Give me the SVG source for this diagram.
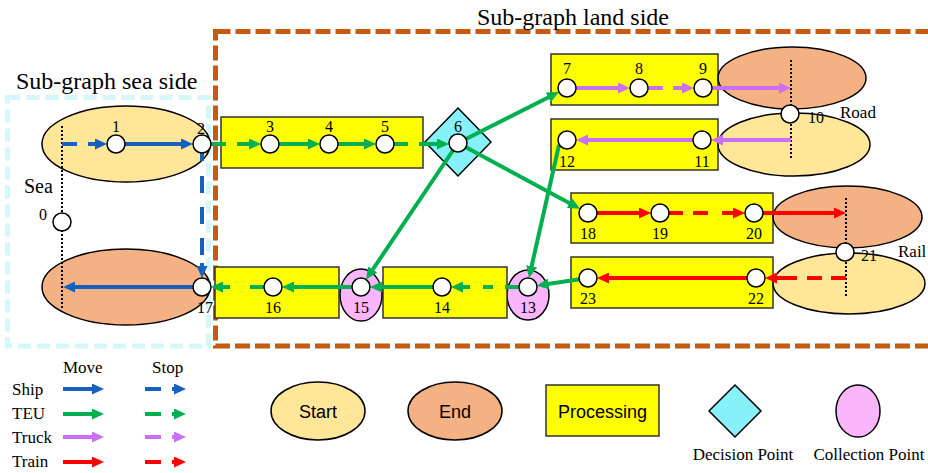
<svg xmlns="http://www.w3.org/2000/svg" width="928" height="473" viewBox="0 0 928 473">
<style>
.t{font-family:"Liberation Serif","Times New Roman",serif;fill:#000}
.n{font-size:16px;text-anchor:middle}
.big{font-size:24px}
.sm{font-size:17px}
.sans{font-family:"Liberation Sans",Arial,sans-serif;font-size:18px;text-anchor:middle;fill:#000}
.st{fill:#ffe699;stroke:#000;stroke-width:1.5}
.en{fill:#f4b183;stroke:#000;stroke-width:1.5}
.pr{fill:#ffff00;stroke:#333;stroke-width:1.5}
.dc{fill:#86f1f9;stroke:#000;stroke-width:1.5}
.co{fill:#fbb5fb;stroke:#000;stroke-width:1.5}
.pt{fill:#fff;stroke:#000;stroke-width:1.5}
.dot{stroke:#000;stroke-width:2;stroke-dasharray:2 2;fill:none}
.c{fill:none;stroke-width:4}
.b{stroke:#1660be;marker-end:url(#ab)}
.g{stroke:#00b050;marker-end:url(#ag)}
.p{stroke:#cc6ff7;marker-end:url(#ap)}
.r{stroke:#ff0000;marker-end:url(#ar)}
</style>
<defs>
<marker id="ab" markerUnits="userSpaceOnUse" markerWidth="12" markerHeight="11" refX="6" refY="5.5" orient="auto"><path d="M0,0L12,5.5L0,11z" fill="#1660be"/></marker>
<marker id="ag" markerUnits="userSpaceOnUse" markerWidth="12" markerHeight="11" refX="6" refY="5.5" orient="auto"><path d="M0,0L12,5.5L0,11z" fill="#00b050"/></marker>
<marker id="ap" markerUnits="userSpaceOnUse" markerWidth="12" markerHeight="11" refX="6" refY="5.5" orient="auto"><path d="M0,0L12,5.5L0,11z" fill="#cc6ff7"/></marker>
<marker id="ar" markerUnits="userSpaceOnUse" markerWidth="12" markerHeight="11" refX="6" refY="5.5" orient="auto"><path d="M0,0L12,5.5L0,11z" fill="#ff0000"/></marker>
</defs>
<rect width="928" height="473" fill="#fff"/>

<g id="subgraph-sea">
<rect x="7.5" y="97.5" width="201" height="248.5" fill="none" stroke="#d5f7fa" stroke-width="5" stroke-dasharray="13 6"/>
<text class="t big" x="16" y="89">Sub-graph sea side</text>
</g>
<g id="subgraph-land">
<rect x="215.5" y="31.5" width="730" height="314.5" fill="none" stroke="#c55a11" stroke-width="5" stroke-dasharray="15 5"/>
<text class="t big" x="477" y="25">Sub-graph land side</text>
</g>

<g id="sea-start"><ellipse class="st" cx="126" cy="144" rx="84" ry="38"/></g>
<g id="sea-end"><ellipse class="en" cx="126" cy="287" rx="84" ry="38"/></g>
<g id="sea-axis"><line class="dot" x1="62" y1="126" x2="62" y2="308"/><text class="t" x="24" y="193" font-size="20">Sea</text></g>
<g id="proc-3-5"><rect class="pr" x="221" y="117" width="202" height="51"/></g>
<g id="decision-6"><polygon class="dc" points="458,108 491,142 458,176 425,142"/></g>
<g id="proc-7-9"><rect class="pr" x="551" y="54" width="167" height="51"/></g>
<g id="proc-11-12"><rect class="pr" x="551" y="119" width="167" height="51"/></g>
<g id="road-end"><ellipse class="en" cx="792" cy="78" rx="74" ry="31"/></g>
<g id="road-start"><ellipse class="st" cx="794" cy="144.5" rx="76" ry="31.5"/></g>
<g id="road-axis"><line class="dot" x1="791" y1="60" x2="791" y2="160"/><text class="t sm" x="840" y="118">Road</text></g>
<g id="proc-18-20"><rect class="pr" x="571" y="193" width="202" height="50"/></g>
<g id="proc-22-23"><rect class="pr" x="571" y="257" width="202" height="51"/></g>
<g id="rail-end"><ellipse class="en" cx="847.5" cy="217" rx="74.5" ry="31"/></g>
<g id="rail-start"><ellipse class="st" cx="849" cy="283.5" rx="76" ry="30.5"/></g>
<g id="rail-axis"><line class="dot" x1="846" y1="198" x2="846" y2="297"/><text class="t sm" x="898" y="257">Rail</text></g>
<g id="collect-13"><ellipse class="co" cx="528" cy="295" rx="21" ry="25"/></g>
<g id="proc-14"><rect class="pr" x="383" y="267" width="124" height="51"/></g>
<g id="collect-15"><ellipse class="co" cx="361" cy="295" rx="21" ry="26"/></g>
<g id="proc-16"><rect class="pr" x="215" y="267" width="124" height="51"/></g>

<g id="connectors">
<path class="c b" d="M62,144H77M88,144H101"/>
<path class="c b" d="M125,144H187"/>
<path class="c b" d="M202,153V161M202,176V193M202,207V224M202,238V255M202,263V272"/>
<path class="c b" d="M193,287H69"/>
<path class="c g" d="M211,144H226M237,144H255"/>
<path class="c g" d="M279,144H314"/>
<path class="c g" d="M338,144H370"/>
<path class="c g" d="M394,144H408M419,144H443"/>
<path class="c g" d="M458,143L553.6,94.7"/>
<path class="c g" d="M458,143L574.8,205.9"/>
<path class="c g" d="M458,143L369.4,274.5"/>
<path class="c g" d="M559,145L530.3,272.1"/>
<path class="c g" d="M588,278L542.8,284.8"/>
<path class="c g" d="M519,287H505M493,287H483M470,287H457"/>
<path class="c g" d="M433,287H376"/>
<path class="c g" d="M352,287H288"/>
<path class="c g" d="M264,287H250M230,287H217"/>
<path class="c p" d="M576,88H624"/>
<path class="c p" d="M648,88H663M673,88H688"/>
<path class="c p" d="M712,88H785"/>
<path class="c p" d="M791,140H717"/>
<path class="c p" d="M693,140H582"/>
<path class="c r" d="M597,213H645"/>
<path class="c r" d="M669,213H683M693,213H708M722,213H739"/>
<path class="c r" d="M763,213H840"/>
<path class="c r" d="M846,278H831M822,278H807M797,278H771"/>
<path class="c r" d="M747,278H603"/>
</g>

<g id="n0"><circle class="pt" cx="62" cy="222" r="9"/><text class="t n" x="43" y="220">0</text></g>
<g id="n1"><text class="t n" x="116" y="132">1</text><circle class="pt" cx="116" cy="144" r="9"/></g>
<g id="n2"><text class="t n" x="201" y="134">2</text><circle class="pt" cx="202" cy="144" r="9"/></g>
<g id="n3"><text class="t n" x="270" y="132">3</text><circle class="pt" cx="270" cy="144" r="9"/></g>
<g id="n4"><text class="t n" x="329" y="132">4</text><circle class="pt" cx="329" cy="144" r="9"/></g>
<g id="n5"><text class="t n" x="385" y="132">5</text><circle class="pt" cx="385" cy="144" r="9"/></g>
<g id="n6"><text class="t n" x="458" y="132">6</text><circle class="pt" cx="458" cy="143" r="9"/></g>
<g id="n7"><text class="t n" x="567" y="74">7</text><circle class="pt" cx="567" cy="88" r="9"/></g>
<g id="n8"><text class="t n" x="639" y="74">8</text><circle class="pt" cx="639" cy="88" r="9"/></g>
<g id="n9"><text class="t n" x="703" y="74">9</text><circle class="pt" cx="703" cy="88" r="9"/></g>
<g id="n10"><circle class="pt" cx="790" cy="114" r="9"/><text class="t n" x="816" y="123">10</text></g>
<g id="n11"><circle class="pt" cx="702" cy="140" r="9"/><text class="t n" x="702" y="167">11</text></g>
<g id="n12"><circle class="pt" cx="567" cy="140" r="9"/><text class="t n" x="567" y="167">12</text></g>
<g id="n13"><circle class="pt" cx="528" cy="287" r="9"/><text class="t n" x="528" y="313">13</text></g>
<g id="n14"><circle class="pt" cx="442" cy="287" r="9"/><text class="t n" x="442" y="313">14</text></g>
<g id="n15"><circle class="pt" cx="361" cy="287" r="9"/><text class="t n" x="361" y="313">15</text></g>
<g id="n16"><circle class="pt" cx="273" cy="287" r="9"/><text class="t n" x="273" y="313">16</text></g>
<g id="n17"><circle class="pt" cx="202" cy="287" r="9"/><text class="t n" x="205" y="313">17</text></g>
<g id="n18"><circle class="pt" cx="588" cy="213" r="9"/><text class="t n" x="588" y="239">18</text></g>
<g id="n19"><circle class="pt" cx="660" cy="213" r="9"/><text class="t n" x="660" y="239">19</text></g>
<g id="n20"><circle class="pt" cx="754" cy="213" r="9"/><text class="t n" x="754" y="239">20</text></g>
<g id="n21"><circle class="pt" cx="845" cy="252" r="9"/><text class="t n" x="869" y="261">21</text></g>
<g id="n22"><circle class="pt" cx="756" cy="278" r="9"/><text class="t n" x="756" y="304">22</text></g>
<g id="n23"><circle class="pt" cx="588" cy="278" r="9"/><text class="t n" x="588" y="304">23</text></g>

<g id="legend-modes">
<text class="t sm" x="63" y="373">Move</text>
<text class="t sm" x="152" y="373">Stop</text>
<text class="t sm" x="12" y="395">Ship</text>
<text class="t sm" x="12" y="419">TEU</text>
<text class="t sm" x="12" y="443">Truck</text>
<text class="t sm" x="12" y="467">Train</text>
<path class="c b" d="M63,389H98"/><path class="c b" d="M145,389H161M172,389H180"/>
<path class="c g" d="M63,414H98"/><path class="c g" d="M145,414H161M172,414H180"/>
<path class="c p" d="M63,437H98"/><path class="c p" d="M145,437H161M172,437H180"/>
<path class="c r" d="M63,462H98"/><path class="c r" d="M145,462H161M172,462H180"/>
</g>
<g id="legend-start"><ellipse class="st" cx="318" cy="411" rx="47" ry="29"/><text class="sans" x="318" y="417.5">Start</text></g>
<g id="legend-end"><ellipse class="en" cx="455" cy="411" rx="47" ry="29"/><text class="sans" x="455" y="417.5">End</text></g>
<g id="legend-processing"><rect class="pr" x="546" y="385" width="113" height="51"/><text class="sans" x="602.5" y="417.5">Processing</text></g>
<g id="legend-decision"><polygon class="dc" points="735,385 761,411 735,437 709,411"/><text class="t sm" x="743" y="460" text-anchor="middle">Decision Point</text></g>
<g id="legend-collection"><ellipse class="co" cx="858" cy="411" rx="22" ry="26"/><text class="t sm" x="869" y="460" text-anchor="middle">Collection Point</text></g>
</svg>
